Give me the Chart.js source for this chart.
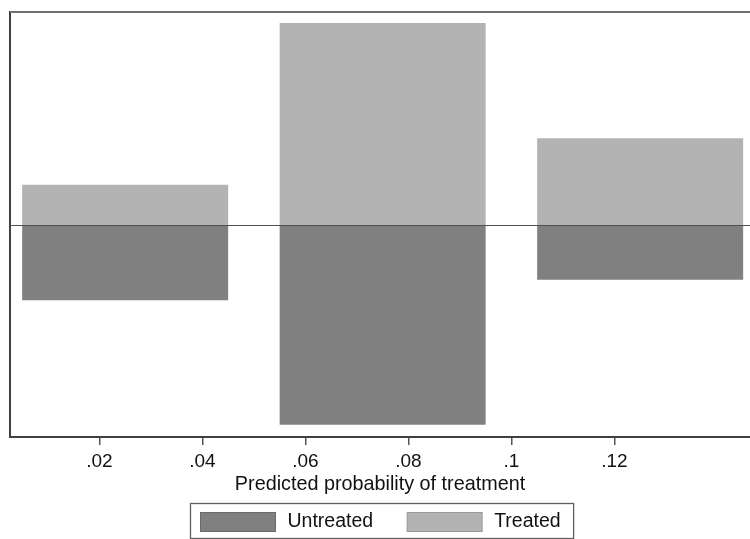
<!DOCTYPE html>
<html>
<head>
<meta charset="utf-8">
<title>Predicted probability of treatment</title>
<script src="https://cdn.jsdelivr.net/npm/chart.js@4.4.1/dist/chart.umd.min.js"></script>
<style>
  body { margin: 0; background: #fff; }
</style>
</head>
<body>
<canvas id="psChart" width="750" height="539"></canvas>
<script>
// propensity score bins (centres) and density per group
var binCenters = [0.025, 0.075, 0.125];
var treated = [0.123, 0.614, 0.264];
var untreated = [-0.227, -0.605, -0.165];
var tickValues = [0.02, 0.04, 0.06, 0.08, 0.1, 0.12];
var tickLabels = ['.02', '.04', '.06', '.08', '.1', '.12'];
var seriesNames = ['Untreated', 'Treated'];

var fontFam = '"Liberation Sans", Arial, Helvetica, sans-serif';

function pts(vals) {
  return vals.map(function(v, i) { return { x: binCenters[i], y: v }; });
}

// zero line, top frame line and the boxed legend at the bottom
var frame = {
  id: 'frame',
  afterDatasetsDraw: function(chart) {
    var ctx = chart.ctx, a = chart.chartArea;
    var y0 = Math.round(chart.scales.y.getPixelForValue(0)) + 0.5;
    ctx.save();
    ctx.strokeStyle = '#505050';
    ctx.lineWidth = 1.2;
    ctx.beginPath(); ctx.moveTo(a.left, y0); ctx.lineTo(a.right, y0); ctx.stroke();
    ctx.strokeStyle = '#707070';
    ctx.lineWidth = 2;
    ctx.beginPath(); ctx.moveTo(a.left, a.top); ctx.lineTo(a.right, a.top); ctx.stroke();
    ctx.restore();
  },
  afterDraw: function(chart) {
    var ctx = chart.ctx, a = chart.chartArea;
    var sw = 75, sh = 19, gapText = 12, gapItem = 34, padL = 10, padR = 13, boxH = 35;
    ctx.save();
    ctx.font = '19.5px ' + fontFam;
    var ds = chart.data.datasets;
    var total = padL + padR;
    ds.forEach(function(d, i) {
      total += sw + gapText + ctx.measureText(d.label).width;
      if (i < ds.length - 1) total += gapItem;
    });
    var bx = Math.round((a.left + a.right) / 2 - total / 2) + 2.5;
    var by = chart.height - boxH - 0.5;
    ctx.strokeStyle = '#606060';
    ctx.lineWidth = 1.3;
    ctx.strokeRect(bx, by, total, boxH);
    var x = bx + padL;
    ds.forEach(function(d) {
      ctx.fillStyle = d.backgroundColor;
      ctx.fillRect(x, by + 9, sw, sh);
      ctx.strokeStyle = d.borderColor;
      ctx.lineWidth = 1;
      ctx.strokeRect(x, by + 9, sw, sh);
      x += sw + gapText;
      ctx.fillStyle = '#111';
      ctx.textBaseline = 'middle';
      ctx.fillText(d.label, x, by + boxH / 2 + 1);
      x += ctx.measureText(d.label).width + gapItem;
    });
    ctx.restore();
  }
};

new Chart(document.getElementById('psChart'), {
  type: 'bar',
  data: {
    datasets: [{
      label: seriesNames[0],
      data: pts(untreated),
      backgroundColor: '#808080',
      borderColor: '#6a6a6a',
      borderWidth: 0,
      grouped: false,
      barPercentage: 2,      // bar spans two tick steps (.04)
      categoryPercentage: 1
    }, {
      label: seriesNames[1],
      data: pts(treated),
      backgroundColor: '#b3b3b3',
      borderColor: '#9a9a9a',
      borderWidth: 0,
      grouped: false,
      barPercentage: 2,
      categoryPercentage: 1
    }]
  },
  options: {
    responsive: false,
    animation: false,
    layout: { padding: { top: 12, right: 0, bottom: 0, left: 0 } },
    plugins: {
      legend: { display: false },
      tooltip: { enabled: false }
    },
    scales: {
      x: {
        type: 'linear',
        min: 0.00264,
        max: 0.14633,
        offset: false,
        afterFit: function(s) { s.height = 102; },
        afterBuildTicks: function(s) {
          s.ticks = tickValues.map(function(v) { return { value: v }; });
        },
        ticks: {
          callback: function(v, i) { return tickLabels[i]; },
          font: { family: fontFam, size: 19 },
          color: '#111',
          padding: 5,
          maxRotation: 0,
          autoSkip: false
        },
        grid: { drawOnChartArea: false, offset: false, tickLength: 8, color: '#555', lineWidth: 1.5 },
        border: { display: true, color: '#404040', width: 2 },
        title: {
          display: true,
          text: 'Predicted probability of treatment',
          font: { family: fontFam, size: 19.8 },
          color: '#111',
          padding: { top: 0, bottom: 43 }
        }
      },
      y: {
        min: -0.642,
        max: 0.647,
        afterFit: function(s) { s.width = 10; },
        ticks: { display: false },
        grid: { display: false },
        border: { display: true, color: '#404040', width: 2 }
      }
    }
  },
  plugins: [frame]
});
</script>
</body>
</html>
